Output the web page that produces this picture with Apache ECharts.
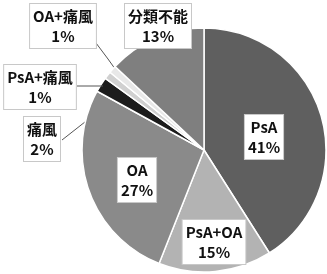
<!DOCTYPE html>
<html>
<head>
<meta charset="utf-8">
<script src="https://cdn.jsdelivr.net/npm/echarts@6/dist/echarts.min.js"></script>
<style>
html,body{margin:0;padding:0;background:#fff;}
#c{width:327px;height:274px;}
</style>
</head>
<body>
<div id="c"></div>
<script>
const categories = ['PsA', 'PsA+OA', 'OA', '痛風', 'PsA+痛風', 'OA+痛風', '分類不能'];
const values = [41, 15, 27, 2, 1, 1, 13];
const colors = ['#5f5f5f', '#b3b3b3', '#8a8a8a', '#1c1c1c', '#d0d0d0', '#e8e8e8', '#7f7f7f'];
// label box centres (layout only)
const labelCenters = {
  'PsA': [264, 137], 'PsA+OA': [214, 242], 'OA': [137, 180], '痛風': [42, 139],
  'PsA+痛風': [40, 87], 'OA+痛風': [63, 26], '分類不能': [158, 26]
};
const linePts = {
  '痛風': [[62, 140], [90, 118], [115, 101]],
  'PsA+痛風': [[77, 86], [90, 86], [103, 86]],
  'OA+痛風': [[96, 43], [108, 59], [118, 73]]
};
const chart = echarts.init(document.getElementById('c'));
chart.setOption({
  animation: false,
  graphic: [{
    type: 'polyline',
    z: 10,
    shape: { points: linePts['PsA+痛風'] },
    style: { stroke: '#555', lineWidth: 1, fill: null }
  }],
  series: [{
    type: 'pie',
    center: [204, 150],
    radius: 122,
    startAngle: 90,
    clockwise: true,
    avoidLabelOverlap: false,
    data: categories.map((n, i) => ({
      name: n, value: values[i],
      itemStyle: { color: colors[i] },
      label: { position: linePts[n] ? 'outside' : 'inside' },
      labelLine: { show: !!linePts[n] && n !== 'PsA+痛風' }
    })),
    itemStyle: { borderColor: '#fff', borderWidth: 1.5 },
    label: {
      formatter: '{b}\n{d}%',
      fontFamily: '"Noto Sans CJK JP", sans-serif',
      fontWeight: 'bold',
      fontSize: 15,
      lineHeight: 20,
      color: '#111',
      backgroundColor: '#fff',
      borderColor: '#c8c8c8',
      borderWidth: 1,
      padding: [2, 3, 2, 3],
      align: 'center',
      overflow: 'none'
    },
    labelLine: { show: true, length: 10, length2: 10, lineStyle: { color: '#555', width: 1 } },
    labelLayout: function (p) {
      const n = categories[p.dataIndex];
      const c = labelCenters[n];
      const o = { x: c[0], y: c[1], align: 'center', verticalAlign: 'middle' };
      if (linePts[n] && n !== 'PsA+痛風') o.labelLinePoints = linePts[n];
      return o;
    }
  }]
});
</script>
</body>
</html>
